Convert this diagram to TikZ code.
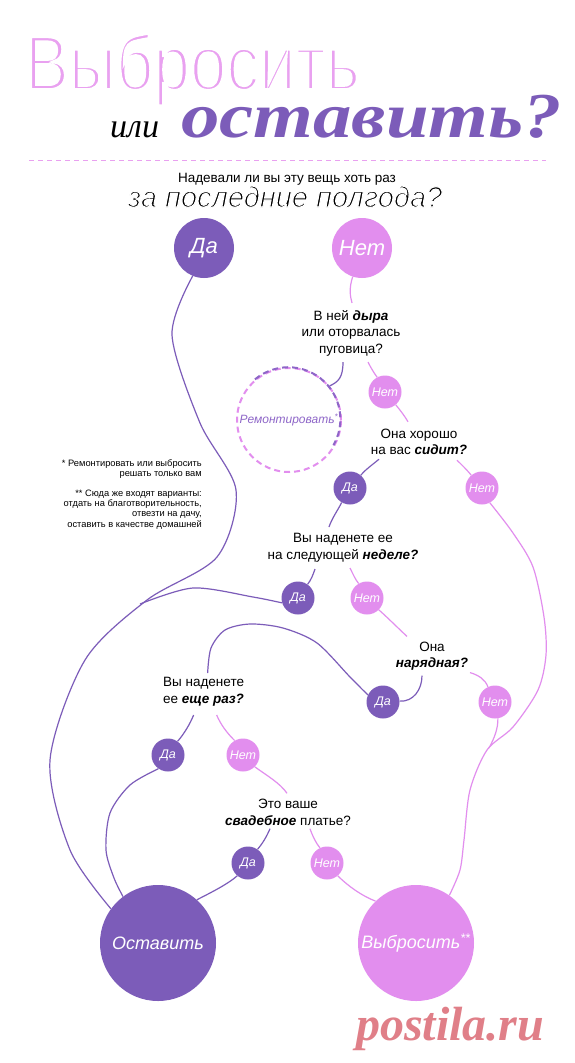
\documentclass[tikz,border=0pt]{standalone}
\usepackage{fontspec}
\usepackage{graphicx}
\setmainfont{Liberation Sans}
\newfontfamily\serifit{Liberation Serif}
\usetikzlibrary{calc}
\definecolor{dk}{HTML}{7C5CB9}
\definecolor{lt}{HTML}{E28EEE}
\definecolor{ttl}{HTML}{E9A1F0}
\definecolor{remdk}{HTML}{8E66C8}
\definecolor{wm}{HTML}{E07F88}
\newcommand{\thintext}[2]{\special{pdf:literal direct 1 1 1 RG #1 w 2 Tr}#2\special{pdf:literal direct 0 Tr}}
\tikzset{
  conn/.style={line width=1.2pt},
  dkline/.style={conn, draw=dk},
  ltline/.style={conn, draw=lt},
  bigcirc/.style={circle, inner sep=0pt, minimum size=60pt, text=white, font=\fontsize{22}{22}\selectfont\itshape},
  smallcirc/.style={circle, inner sep=0pt, minimum size=33pt, text=white, font=\fontsize{12.5}{12.5}\selectfont\itshape},
  endcirc/.style={circle, inner sep=0pt, minimum size=116pt, text=white, font=\fontsize{18}{18}\selectfont\itshape},
  question/.style={align=center, inner sep=0pt, font=\fontsize{13.5}{16.5}\selectfont},
  note/.style={align=right, inner sep=0pt, font=\fontsize{9.3}{10.3}\selectfont},
}
\begin{document}
\begin{tikzpicture}[x=1pt,y=-1pt]
\fill[white] (0,0) rectangle (575,1063);
\useasboundingbox (0,0) rectangle (575,1063);

% title
\node[anchor=base west, inner sep=0pt, text=ttl, font=\fontsize{78}{78}\selectfont] (t1) at (25,90) {\scalebox{0.84}[1]{\thintext{3.6}{Выбросить}}};
\node[anchor=base west, inner sep=0pt, font=\serifit\itshape\fontsize{34}{34}\selectfont] (t2) at (110,137) {или};
\node[anchor=base west, inner sep=0pt, text=dk, font=\serifit\bfseries\itshape\fontsize{64}{64}\selectfont] (t3) at (181,137) {\scalebox{1.2}[1]{оставить?}};
\coordinate (dl1) at (29,160);
\coordinate (dl2) at (546,160);
\draw[ttl, line width=1pt, dash pattern=on 5pt off 4pt] (dl1) -- (dl2);

% heading question
\node[inner sep=0pt, anchor=base, font=\fontsize{13.5}{16}\selectfont] (h1) at (287,182) {Надевали ли вы эту вещь хоть раз};
\node[inner sep=0pt, anchor=base, font=\itshape\fontsize{29}{29}\selectfont] (h2) at (285,207) {\thintext{1.1}{за последние полгода?}};

% questions
\node[question] (q1) at (351,333) {В ней \textbf{\textit{дыра}}\\или оторвалась\\пуговица?};
\node[question] (q2) at (419,442) {Она хорошо\\на вас \textbf{\textit{сидит?}}};
\node[question] (q3) at (343,547.5) {Вы наденете ее\\на следующей \textbf{\textit{неделе?}}};
\node[question] (q4) at (432,656) {Она\\\textbf{\textit{нарядная?}}};
\node[question, align=left, anchor=west] (q5) at (163,691.5) {Вы наденете\\ее \textbf{\textit{еще раз?}}};
\node[question] (q6) at (288,812.5) {Это ваше\\\textbf{\textit{свадебное}} платье?};

% footnotes
\node[note, anchor=north east] (fn1) at (202,459.5) {* Ремонтировать или выбросить\\решать только вам};
\node[note, anchor=north east] (fn2) at (202,489.5) {** Сюда же входят варианты:\\отдать на благотворительность,\\отвезти на дачу,\\оставить в качестве домашней};

% circles
\node[bigcirc, fill=dk] (da0) at (204,248) {Да};
\node[bigcirc, fill=lt] (net0) at (362,248) {Нет};
\node[circle, inner sep=0pt, minimum size=104pt, draw=lt, line width=2pt, dash pattern=on 6pt off 4pt, text=remdk, font=\fontsize{12}{12}\selectfont\itshape] (rem) at (289,420) {Ремонтировать\textsuperscript{*}};
\draw[remdk, line width=2pt, dash pattern=on 6pt off 4pt] (rem.130) arc[start angle=-130, end angle=30, radius=52];
\node[smallcirc] (n1) at (385,392) {};
\node[smallcirc] (d2) at (350,488) {};
\node[smallcirc] (n2) at (482,488) {};
\node[smallcirc] (d3) at (298,598) {};
\node[smallcirc] (n3) at (367,598) {};
\node[smallcirc] (d4) at (383,702) {};
\node[smallcirc] (n4) at (495,702) {};
\node[smallcirc] (d5) at (168,755) {};
\node[smallcirc] (n5) at (243,755) {};
\node[smallcirc] (d6) at (248,863) {};
\node[smallcirc] (n6) at (327,863) {};
\node[endcirc] (keep) at (158,943) {};
\node[endcirc] (toss) at (416,943) {};

\coordinate (join1) at (140,604);
\coordinate (join2) at (489,748);
\coordinate (q5top) at ($(q5.north)+(4,-4)$);

% connectors
\draw[dkline] plot[smooth] coordinates {(da0.-112) (172,335) (200,423) (236,490) (217,557) (147,600) (85,660) (50,760) (70,850) (keep.144)};
\draw[ltline] (net0.-108) .. controls (349,288) and (350,296) .. ($(q1.north)+(1,-7)$);
\draw[dkline] ($(q1.south)+(-8,6)$) .. controls (343,378) and (338,382) .. (rem.40);
\draw[ltline] ($(q1.south)+(17,6)$) .. controls (371,368) and (374,373) .. (n1.118);
\draw[ltline] (n1.-50) .. controls (400,410) and (404,415) .. ($(q2.north)+(-11,-7)$);
\draw[dkline] ($(q2.south)+(-40,4)$) .. controls (372,465) and (365,470) .. (d2.50);
\draw[ltline] ($(q2.south)+(38,5)$) .. controls (463,466) and (467,470) .. (n2.130);
\draw[dkline] (d2.-120) .. controls (338,510) and (332,518) .. ($(q3.north)+(-14,-6)$);
\draw[ltline] plot[smooth] coordinates {(n2.-62) (513,533) (533,567) (544,617) (546,655) (538,690) (513,727) (487,750) (470,790) (464,840) (460,870) (toss.55)};
\draw[ltline] (n4.-80) .. controls (498,728) and (495,737) .. (join2);
\draw[dkline] ($(q3.south)+(-28,7)$) .. controls (313,575) and (311,580) .. (d3.55);
\draw[ltline] ($(q3.south)+(7,6)$) .. controls (353,574) and (355,579) .. (n3.120);
\draw[dkline] plot[smooth] coordinates {(d3.197) (253,597) (193,588) (join1)};
\draw[ltline] (n3.-45) .. controls (388,618) and (398,628) .. ($(q4.north)+(-25,-5)$);
\draw[dkline] ($(q4.south)+(-10,5)$) .. controls (422,690) and (413,702) .. (d4.3);
\draw[ltline] ($(q4.south)+(38,2)$) .. controls (478,675) and (485,679) .. (n4.115);
\draw[dkline] plot[smooth] coordinates {(d4.155) (350,677) (317,643) (283,628) (250,624) (225,630) (211,648) (q5top)};
\draw[dkline] ($(q5.south)+(-10,9)$) .. controls (190,724) and (184,734) .. (d5.55);
\draw[ltline] ($(q5.south)+(13,9)$) .. controls (221,725) and (227,733) .. (n5.120);
\draw[ltline] (n5.-45) .. controls (266,775) and (280,783) .. ($(q6.north)+(-1,-6)$);
\draw[dkline] ($(q6.south)+(-18,3)$) .. controls (266,838) and (262,844) .. (d6.55);
\draw[ltline] ($(q6.south)+(22,3)$) .. controls (313,837) and (316,843) .. (n6.115);
\draw[dkline] (d6.-130) .. controls (228,884) and (212,892) .. (keep.48);
\draw[ltline] (n6.-50) .. controls (348,886) and (362,896) .. (toss.134);
\draw[dkline] plot[smooth] coordinates {(d5.-125) (130,785) (110,813) (106,850) (114,878) (keep.127)};

% filled circles on top
\node[smallcirc, fill=lt] at (n1) {Нет};
\node[smallcirc, fill=dk] at (d2) {Да};
\node[smallcirc, fill=lt] at (n2) {Нет};
\node[smallcirc, fill=dk] at (d3) {Да};
\node[smallcirc, fill=lt] at (n3) {Нет};
\node[smallcirc, fill=dk] at (d4) {Да};
\node[smallcirc, fill=lt] at (n4) {Нет};
\node[smallcirc, fill=dk] at (d5) {Да};
\node[smallcirc, fill=lt] at (n5) {Нет};
\node[smallcirc, fill=dk] at (d6) {Да};
\node[smallcirc, fill=lt] at (n6) {Нет};
\node[endcirc, fill=dk] at (keep) {Оставить};
\node[endcirc, fill=lt] at (toss) {Выбросить\textsuperscript{**}};

% watermark
\node[anchor=base west, inner sep=0pt, text=wm, font=\serifit\bfseries\itshape\fontsize{48}{48}\selectfont] (wmk) at (356,1040) {postila.ru};
\end{tikzpicture}
\end{document}
